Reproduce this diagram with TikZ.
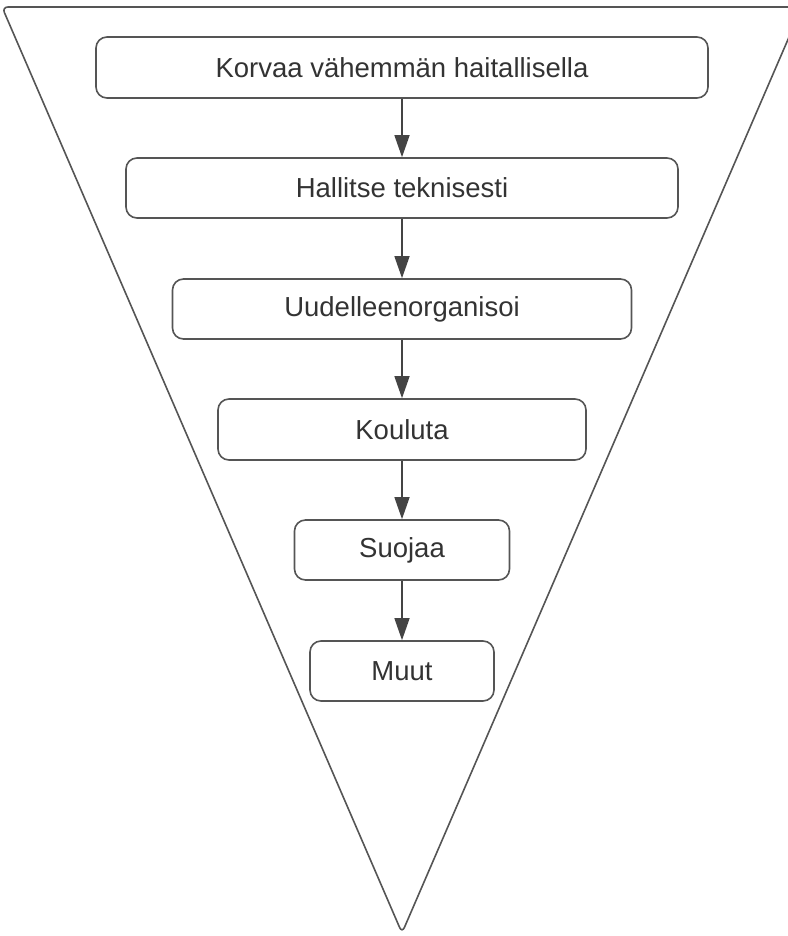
\documentclass[tikz,border=0pt]{standalone}
\usepackage{fontspec}
\setmainfont{Liberation Sans}
\usetikzlibrary{arrows.meta}
\definecolor{linegray}{HTML}{555555}
\definecolor{textgray}{HTML}{333333}
\begin{document}
\begin{tikzpicture}[x=1pt,y=-1pt,
  stepbox/.style={draw=linegray,line width=1.6pt,rounded corners=11pt,fill=white,
    text=textgray,font=\fontsize{27.5}{31}\selectfont,inner sep=0pt},
  flow/.style={draw=linegray!80!black,line width=1.4pt,
    -{Triangle[width=15pt,length=22pt]}}]
  \useasboundingbox (0,0) rectangle (787,936);
  % inverted funnel outline
  \draw[linegray,line width=1.6pt,rounded corners=6pt]
    (2,7) -- (802,7) -- (402,933) -- cycle;
  % steps, from top to bottom
  \node[stepbox,minimum width=612pt,minimum height=61pt] (s1) at (402,67.5) {Korvaa vähemmän haitallisella};
  \node[stepbox,minimum width=552pt,minimum height=60pt] (s2) at (402,188) {Hallitse teknisesti};
  \node[stepbox,minimum width=459pt,minimum height=60pt] (s3) at (402,309) {Uudelleenorganisoi};
  \node[stepbox,minimum width=368pt,minimum height=61pt] (s4) at (402,429.5) {Kouluta};
  \node[stepbox,minimum width=215pt,minimum height=60pt] (s5) at (402,550) {Suojaa};
  \node[stepbox,minimum width=184pt,minimum height=60pt] (s6) at (402,671) {Muut};
  % connectors
  \draw[flow] (s1.south) -- (s2.north);
  \draw[flow] (s2.south) -- (s3.north);
  \draw[flow] (s3.south) -- (s4.north);
  \draw[flow] (s4.south) -- (s5.north);
  \draw[flow] (s5.south) -- (s6.north);
\end{tikzpicture}
\end{document}
